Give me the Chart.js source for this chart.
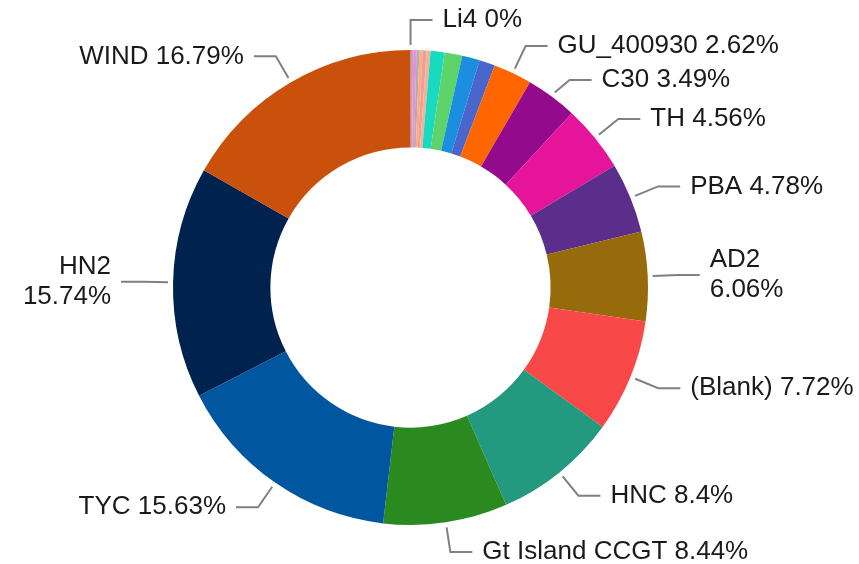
<!DOCTYPE html>
<html>
<head>
<meta charset="utf-8">
<title>Share by unit</title>
<script src="https://cdn.jsdelivr.net/npm/chart.js@4.4.1/dist/chart.umd.min.js"></script>
<style>
  body { margin: 0; background: #fff; }
  #chart-share { display: block; }
</style>
</head>
<body>
<canvas id="chart-share" width="859" height="564"></canvas>
<script>
/* Data */

var units = [ 'Li4', '', '', '', '', '', '', '', '', '', '', 'GU_400930', 'C30', 'TH', 'PBA', 'AD2', '(Blank)', 'HNC', 'Gt Island CCGT', 'TYC', 'HN2', 'WIND' ];
var shares = [ 0.004, 0.18, 0.22, 0.2, 0.22, 0.26, 0.266, 0.95, 1.2, 1.2, 1.07, 2.62, 3.49, 4.56, 4.78, 6.06, 7.72, 8.4, 8.44, 15.63, 15.74, 16.79 ];
var colours = [ '#8e8a96', '#b9a3d6', '#ea8fd2', '#b4aab4', '#f7b07a', '#f79a9a', '#f0b49a', '#19d9c0', '#5dd36a', '#1b8ee0', '#4a66cc', '#ff6600', '#930a8c', '#e6149a', '#5a2e8a', '#976a0b', '#f84848', '#23997f', '#2a8a1f', '#0057a0', '#00224f', '#c9510c' ];
var wrapped = [ 'AD2', 'HN2' ];

/* Labels with leader lines */

var leaderLabels = {
	id: 'leaderLabels',
	afterDraw: function( chart ) {
		var ctx = chart.ctx;
		var arcs = chart.getDatasetMeta(0).data;
		var items = [];
		arcs.forEach(function( arc, i ) {
			if ( !units[i] ) return;
			var p = arc.getProps([ 'x', 'y', 'startAngle', 'endAngle', 'outerRadius' ], true);
			var mid = ( p.startAngle + p.endAngle ) / 2;
			var cos = Math.cos(mid), sin = Math.sin(mid);
			var pct = Number(shares[i].toFixed(2)) + '%';
			items.push({
				lines: wrapped.indexOf(units[i]) >= 0 ? [ units[i], pct ] : [ units[i] + ' ' + pct ],
				right: cos >= 0,
				sx: p.x + cos * ( p.outerRadius + 5 ), sy: p.y + sin * ( p.outerRadius + 5 ),
				ex: p.x + cos * ( p.outerRadius + 30 ), ey: p.y + sin * ( p.outerRadius + 30 )
			});
		});

		ctx.save();
		ctx.font = '26px "Liberation Sans", Arial, sans-serif';
		items.forEach(function( it ) {
			it.w = Math.max.apply(null, it.lines.map(function( l ) { return ctx.measureText(l).width; }));
			it.h = it.lines.length * 30 + 4;
			it.x0 = it.right ? it.ex + 32 : it.ex - 32 - it.w;
			it.x1 = it.x0 + it.w;
		});

		// push overlapping labels down
		[ true, false ].forEach(function( side ) {
			var list = items.filter(function( it ) { return it.right === side; })
				.sort(function( a, b ) { return a.ey - b.ey; });
			for ( var i = 1; i < list.length; i++ ) {
				for ( var j = 0; j < i; j++ ) {
					var a = list[j], b = list[i];
					var gap = ( a.h + b.h ) / 2;
					if ( b.x0 < a.x1 && a.x0 < b.x1 && b.ey - a.ey < gap ) b.ey = a.ey + gap;
				}
			}
		});

		items.forEach(function( it ) {
			var hx = it.right ? it.ex + 22 : it.ex - 22;
			ctx.strokeStyle = '#808080';
			ctx.lineWidth = 2;
			ctx.beginPath();
			ctx.moveTo(it.sx, it.sy);
			ctx.lineTo(it.ex, it.ey);
			ctx.lineTo(hx, it.ey);
			ctx.stroke();

			ctx.fillStyle = '#1a1a1a';
			ctx.textBaseline = 'middle';
			ctx.textAlign = it.right ? 'left' : 'right';
			var tx = it.right ? hx + 10 : hx - 10;
			it.lines.forEach(function( l, k ) {
				ctx.fillText(l, tx, it.ey + ( k - ( it.lines.length - 1 ) / 2 ) * 30);
			});
		});
		ctx.restore();
	}
};

/* Doughnut */

var ctxshare = document.getElementById("chart-share").getContext('2d');
var myChart = new Chart(ctxshare, {
	type: 'doughnut',
	data: {
		labels: units,
		datasets: [{
			data: shares,
			backgroundColor: colours,
			borderWidth: 0
		}]
	},
	options: {
		responsive: false,
		animation: false,
		cutout: '59%',
		layout: { padding: { left: 173, right: 211, top: 50, bottom: 39 } },
		plugins: { legend: { display: false }, tooltip: { enabled: false } }
	},
	plugins: [ leaderLabels ]
});
</script>
</body>
</html>
